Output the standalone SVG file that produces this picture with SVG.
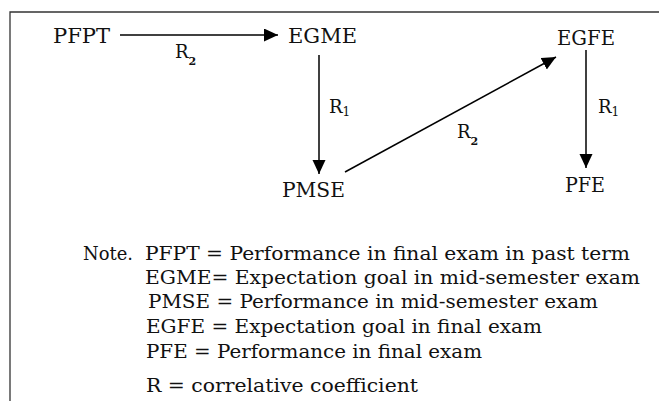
<svg xmlns="http://www.w3.org/2000/svg" width="659" height="401" viewBox="0 0 659 401">
<style>
  text { font-family: "DejaVu Serif", "Liberation Serif", serif; fill: #111; }
  .node { font-size: 20px; }
  .note { font-size: 18px; }
  .lbl { font-size: 18px; }
  .sub { font-size: 11px; font-weight: bold; }
  .sub1 { font-size: 12px; }
  .conn { stroke: #000; stroke-width: 1.5; fill: none; marker-end: url(#arr); }
  .frame { stroke: #333; stroke-width: 1.3; fill: none; }
</style>
<defs>
  <marker id="arr" markerUnits="userSpaceOnUse" markerWidth="16" markerHeight="14" refX="14" refY="6.5" orient="auto">
    <path d="M0,0 L14,6.5 L0,13 Z" fill="#000"/>
  </marker>
</defs>
<rect width="659" height="401" fill="#fff"/>
<path class="frame" d="M10,401 L10,12 L659,12"/>

<g id="connectors">
  <line class="conn" x1="120" y1="35" x2="278" y2="35"/>
  <line class="conn" x1="319" y1="55" x2="319" y2="174"/>
  <line class="conn" x1="345" y1="172" x2="556" y2="57"/>
  <line class="conn" x1="586" y1="50" x2="586" y2="168"/>
  <text class="lbl" x="175" y="58">R<tspan class="sub" dy="7">2</tspan></text>
  <text class="lbl" x="329" y="113">R<tspan class="sub1" dy="3">1</tspan></text>
  <text class="lbl" x="457" y="138">R<tspan class="sub" dy="7">2</tspan></text>
  <text class="lbl" x="598" y="113">R<tspan class="sub1" dy="3">1</tspan></text>
</g>

<g id="PFPT"><text class="node" x="53" y="43" textLength="57" lengthAdjust="spacingAndGlyphs">PFPT</text></g>
<g id="EGME"><text class="node" x="288" y="43" textLength="69" lengthAdjust="spacingAndGlyphs">EGME</text></g>
<g id="EGFE"><text class="node" x="557" y="45" textLength="58" lengthAdjust="spacingAndGlyphs">EGFE</text></g>
<g id="PMSE"><text class="node" x="282" y="197" textLength="63" lengthAdjust="spacingAndGlyphs">PMSE</text></g>
<g id="PFE"><text class="node" x="565" y="192" textLength="40" lengthAdjust="spacingAndGlyphs">PFE</text></g>

<g id="note">
  <text class="note" x="83" y="260" textLength="50" lengthAdjust="spacingAndGlyphs">Note.</text>
  <text class="note" x="145" y="260" textLength="485" lengthAdjust="spacingAndGlyphs">PFPT = Performance in final exam in past term</text>
  <text class="note" x="145" y="284" textLength="495" lengthAdjust="spacingAndGlyphs">EGME= Expectation goal  in mid-semester exam</text>
  <text class="note" x="148" y="308" textLength="450" lengthAdjust="spacingAndGlyphs">PMSE = Performance in mid-semester exam</text>
  <text class="note" x="146" y="333" textLength="396" lengthAdjust="spacingAndGlyphs">EGFE = Expectation goal in final exam</text>
  <text class="note" x="146" y="358" textLength="336" lengthAdjust="spacingAndGlyphs">PFE = Performance in final exam</text>
  <text class="note" x="146" y="392" textLength="272" lengthAdjust="spacingAndGlyphs">R = correlative coefficient</text>
</g>
</svg>
